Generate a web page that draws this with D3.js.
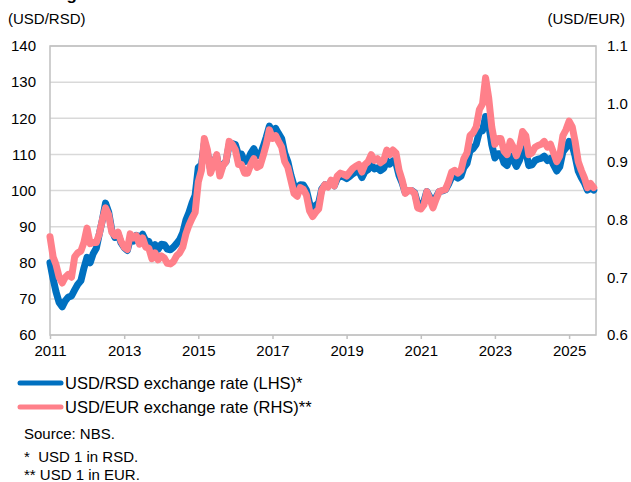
<!DOCTYPE html>
<html>
<head>
<meta charset="utf-8">
<script src="https://cdnjs.cloudflare.com/ajax/libs/d3/7.8.5/d3.min.js"></script>
<style>
  body { margin: 0; background: #fff; }
  svg { display: block; font-family: "Liberation Sans", Arial, sans-serif; }
</style>
</head>
<body>
<svg id="chart" width="631" height="482"></svg>
<script>
// monthly readings, Jan 2011 .. Sep 2025
var startMonth = "2011-01";

var usdRsd = [
  80.0, 75.5, 72.0, 69.0, 67.8, 69.5, 70.5, 70.8, 72.5, 74.0, 75.0, 78.5,      // 2011
  81.5, 80.0, 82.5, 84.0, 88.0, 92.0, 96.5, 94.0, 89.0, 87.0, 88.0, 85.5,      // 2012
  84.2, 83.4, 86.4, 86.0, 87.6, 86.7, 87.9, 86.1, 85.9, 83.7, 85.0, 83.7,      // 2013
  85.1, 85.0, 83.8, 83.6, 84.3, 85.3, 86.4, 88.3, 91.8, 93.9, 96.6, 98.7,      // 2014
  106.4, 107.1, 113.0, 110.4, 105.9, 107.7, 109.6, 105.0, 107.1, 108.0, 112.7, 113.0, // 2015
  112.7, 109.9, 110.1, 108.0, 108.2, 110.3, 111.6, 109.6, 109.8, 112.1, 114.8, 117.8, // 2016
  116.4, 117.2, 115.8, 114.4, 110.4, 108.0, 104.3, 101.3, 100.3, 101.6, 101.5, 100.1, // 2017
  96.5, 95.0, 95.8, 96.6, 100.4, 101.6, 101.1, 102.5, 101.3, 103.3, 104.0, 103.8,    // 2018
  103.3, 103.9, 104.6, 105.1, 105.4, 103.6, 105.2, 105.8, 107.2, 106.0, 106.3, 105.5, // 2019
  106.1, 108.2, 107.3, 108.2, 107.6, 104.1, 102.1, 99.4, 100.0, 100.0, 99.4, 96.4,   // 2020
  96.2, 97.0, 99.7, 98.2, 96.4, 98.2, 99.7, 99.9, 100.2, 101.7, 103.7, 104.0,       // 2021
  103.4, 104.0, 106.3, 107.5, 111.0, 111.6, 112.8, 116.3, 116.5, 120.5, 118.2, 112.7, // 2022
  109.0, 110.2, 110.2, 107.6, 106.9, 109.6, 108.4, 106.7, 108.4, 111.6, 110.8, 106.9, // 2023
  107.1, 108.3, 108.7, 108.9, 109.5, 108.3, 108.9, 107.1, 105.4, 106.6, 110.7, 111.8, // 2024
  113.6, 112.4, 109.5, 105.4, 103.6, 102.1, 100.1, 100.9, 100.1                      // 2025
];

var usdEur = [
  0.770, 0.735, 0.722, 0.700, 0.690, 0.700, 0.705, 0.700, 0.735, 0.742, 0.745, 0.760, // 2011
  0.785, 0.758, 0.760, 0.760, 0.775, 0.800, 0.820, 0.808, 0.778, 0.772, 0.778, 0.762, // 2012
  0.752, 0.748, 0.775, 0.768, 0.772, 0.757, 0.768, 0.752, 0.750, 0.732, 0.742, 0.730, // 2013
  0.737, 0.733, 0.724, 0.723, 0.727, 0.737, 0.742, 0.752, 0.775, 0.790, 0.802, 0.812, // 2014
  0.865, 0.885, 0.940, 0.920, 0.880, 0.895, 0.912, 0.875, 0.893, 0.900, 0.935, 0.930, // 2015
  0.920, 0.895, 0.895, 0.880, 0.880, 0.895, 0.905, 0.890, 0.893, 0.910, 0.930, 0.955, // 2016
  0.940, 0.945, 0.935, 0.925, 0.900, 0.890, 0.868, 0.845, 0.840, 0.855, 0.852, 0.842, // 2017
  0.815, 0.805, 0.812, 0.818, 0.850, 0.860, 0.856, 0.868, 0.858, 0.875, 0.880, 0.878, // 2018
  0.875, 0.882, 0.888, 0.892, 0.895, 0.882, 0.895, 0.900, 0.912, 0.902, 0.905, 0.898, // 2019
  0.902, 0.920, 0.912, 0.920, 0.915, 0.885, 0.868, 0.845, 0.850, 0.850, 0.845, 0.820, // 2020
  0.818, 0.825, 0.848, 0.835, 0.820, 0.835, 0.848, 0.850, 0.852, 0.865, 0.882, 0.885, // 2021
  0.880, 0.885, 0.905, 0.915, 0.945, 0.950, 0.960, 0.990, 1.000, 1.045, 1.010, 0.960, // 2022
  0.930, 0.940, 0.940, 0.918, 0.912, 0.935, 0.925, 0.910, 0.925, 0.952, 0.945, 0.912, // 2023
  0.915, 0.925, 0.928, 0.930, 0.935, 0.925, 0.930, 0.915, 0.900, 0.910, 0.945, 0.955, // 2024
  0.970, 0.960, 0.935, 0.900, 0.885, 0.872, 0.855, 0.862, 0.855                      // 2025
];

var tickYears = [2011, 2013, 2015, 2017, 2019, 2021, 2023, 2025];
var leftTicks = [60, 70, 80, 90, 100, 110, 120, 130, 140];
var rightTicks = [0.6, 0.7, 0.8, 0.9, 1.0, 1.1];
var seriesNames = ["USD/RSD exchange rate (LHS)*", "USD/EUR exchange rate (RHS)**"];
var notes = ["Source: NBS.", "*\u00a0\u00a0USD 1 in RSD.", "** USD 1 in EUR."];
var colors = ["#0070C0", "#FF808A"];

var svg = d3.select("#chart"),
    margin = {top: 46, right: 35, bottom: 147, left: 50},
    width = +svg.attr("width") - margin.left - margin.right,
    height = +svg.attr("height") - margin.top - margin.bottom,
    g = svg.append("g").attr("transform", "translate(" + margin.left + "," + margin.top + ")");

var parseMonth = d3.timeParse("%Y-%m");
var dates = usdRsd.map(function(d, i) { return d3.timeMonth.offset(parseMonth(startMonth), i); });

var x = d3.scaleTime()
    .domain([new Date(2011, 0, 1), new Date(2025, 8, 23)])
    .range([0, width]);

var yL = d3.scaleLinear().domain([60, 140]).range([height, 0]);
var yR = d3.scaleLinear().domain([0.6, 1.1]).range([height, 0]);

// gridlines
g.append("g")
  .selectAll("line")
  .data(leftTicks)
  .enter().append("line")
    .attr("x1", 0)
    .attr("x2", width)
    .attr("y1", function(d) { return yL(d); })
    .attr("y2", function(d) { return yL(d); })
    .attr("stroke", "#d9d9d9")
    .attr("stroke-width", 1.5);

// frame
g.append("rect")
    .attr("width", width)
    .attr("height", height)
    .attr("fill", "none")
    .attr("stroke", "#c0c0c0")
    .attr("stroke-width", 1.5);

// x axis
var xAxis = g.append("g")
    .attr("transform", "translate(0," + height + ")")
    .call(d3.axisBottom(x)
      .tickValues(tickYears.map(function(yr) { return new Date(yr, 0, 1); }))
      .tickFormat(d3.timeFormat("%Y"))
      .tickSize(4)
      .tickPadding(6));
xAxis.select(".domain").remove();
xAxis.selectAll("line").attr("stroke", "#c0c0c0").attr("stroke-width", 1.5);
xAxis.selectAll("text").attr("font-size", 15).attr("fill", "#000").attr("font-family", "Liberation Sans, Arial, sans-serif");

// left axis
var leftAxis = g.append("g")
    .call(d3.axisLeft(yL).tickValues(leftTicks).tickSize(0).tickPadding(14));
leftAxis.select(".domain").remove();
leftAxis.selectAll("text").attr("font-size", 15).attr("fill", "#000").attr("font-family", "Liberation Sans, Arial, sans-serif");

// right axis
var rightAxis = g.append("g")
    .attr("transform", "translate(" + width + ",0)")
    .call(d3.axisRight(yR).tickValues(rightTicks).tickFormat(d3.format(".1f")).tickSize(0).tickPadding(11));
rightAxis.select(".domain").remove();
rightAxis.selectAll("text").attr("font-size", 15).attr("fill", "#000").attr("font-family", "Liberation Sans, Arial, sans-serif");

// lines
var lineL = d3.line()
    .x(function(d, i) { return x(dates[i]); })
    .y(function(d) { return yL(d); });
var lineR = d3.line()
    .x(function(d, i) { return x(dates[i]); })
    .y(function(d) { return yR(d); });

g.append("path")
    .datum(usdRsd)
    .attr("d", lineL)
    .attr("fill", "none")
    .attr("stroke", colors[0])
    .attr("stroke-width", 7)
    .attr("stroke-linejoin", "round")
    .attr("stroke-linecap", "round");

g.append("path")
    .datum(usdEur)
    .attr("d", lineR)
    .attr("fill", "none")
    .attr("stroke", colors[1])
    .attr("stroke-width", 7)
    .attr("stroke-linejoin", "round")
    .attr("stroke-linecap", "round");

// title (cut off at the top) and axis units
svg.append("text")
    .attr("x", 6)
    .attr("y", 0)
    .attr("font-size", 17)
    .attr("font-weight", "bold")
    .text("Exchange rate");

svg.append("text")
    .attr("x", 8)
    .attr("y", 24)
    .attr("font-size", 15)
    .text("(USD/RSD)");

svg.append("text")
    .attr("x", 625)
    .attr("y", 24)
    .attr("font-size", 15)
    .attr("text-anchor", "end")
    .text("(USD/EUR)");

// legend
var legend = svg.append("g")
  .selectAll("g")
  .data(seriesNames)
  .enter().append("g")
    .attr("transform", function(d, i) { return "translate(0," + (383 + i * 24) + ")"; });

legend.append("line")
    .attr("x1", 20)
    .attr("x2", 61)
    .attr("stroke", function(d, i) { return colors[i]; })
    .attr("stroke-width", 5)
    .attr("stroke-linecap", "round");

legend.append("text")
    .attr("x", 65)
    .attr("dy", "0.35em")
    .attr("font-size", 16.5)
    .text(function(d) { return d; });

// notes
svg.append("g")
  .selectAll("text")
  .data(notes)
  .enter().append("text")
    .attr("x", 24)
    .attr("y", function(d, i) { return [439, 462, 480][i]; })
    .attr("font-size", 15)
    .text(function(d) { return d; });
</script>
</body>
</html>
